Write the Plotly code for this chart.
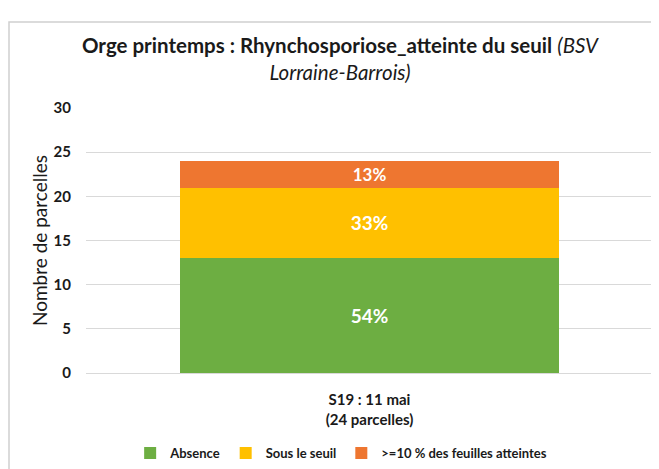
import plotly.graph_objects as go

categories = ["S19 : 11 mai<br>(24 parcelles)"]
series_names = ["Absence", "Sous le seuil", ">=10 % des feuilles atteintes"]
absence = [13]
sous_seuil = [8]
atteint = [3]
labels_absence = ["54%"]
labels_sous = ["33%"]
labels_atteint = ["13%"]
colors = ["#6DAE42", "#FFC000", "#EE7630"]

FONT = "Lato, 'Open Sans', sans-serif"

fig = go.Figure()
for name, vals, labs, col in zip(series_names, [absence, sous_seuil, atteint],
                                 [labels_absence, labels_sous, labels_atteint], colors):
    fig.add_trace(go.Bar(
        x=categories, y=vals, name="<b>" + name + "</b>", text=labs,
        textposition="inside", insidetextanchor="middle",
        textfont=dict(color="white", size=19, family=FONT),
        texttemplate="<b>%{text}</b>",
        marker=dict(color=col, line=dict(width=0)),
        width=0.67,
    ))

W, H = 651, 461
L, T = 78, 100
PW, PH = 567, 265

fig.update_layout(
    barmode="stack",
    width=W, height=H,
    margin=dict(l=L, r=W - L - PW, t=T, b=H - T - PH, autoexpand=False),
    paper_bgcolor="white", plot_bgcolor="white",
    font=dict(family=FONT, color="#1a1a1a"),
    title=dict(
        text="<b>Orge printemps : Rhynchosporiose_atteinte du seuil</b> <i>(BSV</i><br><i>Lorraine-Barrois)</i>",
        x=0.51, xanchor="center", y=0.902, yanchor="top",
        font=dict(size=20.5, family=FONT, color="#1a1a1a"),
    ),
    showlegend=True,
    legend=dict(orientation="h", x=0.45, xanchor="center", y=-0.302, yanchor="middle",
                font=dict(size=13, family=FONT, color="#1a1a1a"),
                itemwidth=30, traceorder="normal"),
    shapes=[dict(type="rect", xref="paper", yref="paper",
                 x0=(1 - L) / PW, x1=1.2, y0=-0.5, y1=1 + (T - 14) / PH,
                 line=dict(color="#d0d0d0", width=1.5), fillcolor="rgba(0,0,0,0)", layer="below")],
)
fig.update_yaxes(range=[0, 30], dtick=5, showgrid=True, gridcolor="#d9d9d9", gridwidth=1,
                 zeroline=False, showline=False, automargin=False,
                 tickfont=dict(size=15, family=FONT, color="#1a1a1a"),
                 tickprefix="<b>", ticksuffix="</b>", ticks="", ticklen=0, ticklabelstandoff=14,
                 title=dict(text="Nombre de parcelles", font=dict(size=19, family=FONT, color="#1a1a1a"),
                            standoff=0))
fig.update_xaxes(showline=True, linecolor="#d9d9d9", linewidth=1, automargin=False,
                 tickfont=dict(size=15, family=FONT, color="#1a1a1a"), ticklabelstandoff=13,
                 ticktext=["<b>S19 : 11 mai</b><br><b>(24 parcelles)</b>"], tickvals=categories)

fig.write_html("out.html")
